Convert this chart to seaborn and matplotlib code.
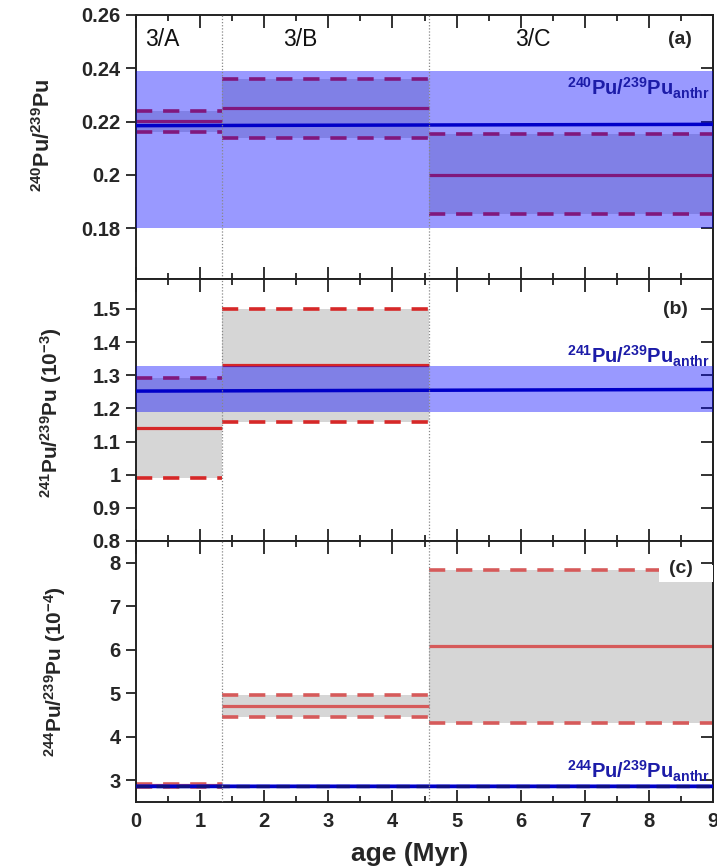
import numpy as np
import pandas as pd
import matplotlib
matplotlib.use("Agg")
import matplotlib.pyplot as plt
import seaborn as sns

# sample layers (age ranges, Myr)
layers = ["3/A", "3/B", "3/C"]
age_start = [0.0, 1.34, 4.57]
age_end = [1.34, 4.57, 9.0]
layer_label_x = [0.41, 2.56, 6.19]

# 240Pu/239Pu
pu240_mean = [0.2202, 0.2252, 0.2000]
pu240_lo = [0.2162, 0.2140, 0.1852]
pu240_hi = [0.2241, 0.2361, 0.2152]
anthr240_line = [0.2185, 0.2190]
anthr240_band = [0.180, 0.239]

# 241Pu/239Pu (1e-3)
pu241_mean = [1.14, 1.33, np.nan]
pu241_lo = [0.99, 1.16, np.nan]
pu241_hi = [1.29, 1.50, np.nan]
anthr241_line = [1.252, 1.257]
anthr241_band = [1.19, 1.327]

# 244Pu/239Pu (1e-4)
pu244_mean = [2.88, 4.71, 6.08]
pu244_lo = [2.84, 4.46, 4.31]
pu244_hi = [2.92, 4.97, 7.84]
anthr244_line = [2.87, 2.87]
anthr244_band = [2.84, 2.92]

age_range = [0, 9]

sns.set_theme(style="ticks")
plt.rcParams["font.family"] = ["Liberation Sans", "DejaVu Sans"]
plt.rcParams["mathtext.fontset"] = "custom"
plt.rcParams["mathtext.rm"] = "Liberation Sans"
plt.rcParams["mathtext.bf"] = "Liberation Sans:bold"
plt.rcParams["mathtext.it"] = "Liberation Sans:italic"

RED = "#d62828"
BLUE_BAND = "#0000ff"
BLUE_LINE = "#0000c8"
LABEL_BLUE = "#1c1ca8"
GREY = "#d6d6d6"

fig = plt.figure(figsize=(7.17, 8.68), dpi=100)
left, width = 136 / 717, 577 / 717
ax_a = fig.add_axes([left, 1 - 279 / 868, width, 264 / 868])
ax_b = fig.add_axes([left, 1 - 541 / 868, width, 262 / 868])
ax_c = fig.add_axes([left, 1 - 802 / 868, width, 261 / 868])


def draw_panel(ax, mean, lo, hi, line, band, red):
    for i in range(len(layers)):
        if np.isnan(mean[i]):
            continue
        x0, x1 = age_start[i], age_end[i]
        ax.fill_between([x0, x1], lo[i], hi[i], color=GREY, lw=0, zorder=1)
        ax.hlines(mean[i], x0, x1, color=red, lw=2.3, zorder=2)
        ax.hlines([lo[i], hi[i]], x0, x1, color=red, lw=2.6,
                  linestyles=(0, (4.5, 3)), zorder=2)
    ax.fill_between(age_range, band[0], band[1], color=BLUE_BAND, alpha=0.4,
                    lw=0, zorder=3)
    df = pd.DataFrame({"age": age_range, "ratio": line})
    sns.lineplot(data=df, x="age", y="ratio", ax=ax, color=BLUE_LINE, lw=2.5,
                 zorder=4)


draw_panel(ax_a, pu240_mean, pu240_lo, pu240_hi, anthr240_line, anthr240_band, RED)
draw_panel(ax_b, pu241_mean, pu241_lo, pu241_hi, anthr241_line, anthr241_band, RED)
draw_panel(ax_c, pu244_mean, pu244_lo, pu244_hi, anthr244_line, anthr244_band, "#d65a5a")
# dashed dark overlay on the anthropogenic 244 line
ax_c.plot(age_range, anthr244_line, color="#101080", lw=2.4,
          linestyle=(0, (4, 2)), zorder=5)

ax_a.set_ylim(0.161, 0.26)
ax_a.set_yticks([0.18, 0.2, 0.22, 0.24, 0.26])
ax_a.set_yticklabels(["0.18", "0.2", "0.22", "0.24", "0.26"])
ax_b.set_ylim(0.8, 1.59)
ax_b.set_yticks([0.8, 0.9, 1.0, 1.1, 1.2, 1.3, 1.4, 1.5])
ax_b.set_yticklabels(["0.8", "0.9", "1", "1.1", "1.2", "1.3", "1.4", "1.5"])
ax_c.set_ylim(2.5, 8.5)
ax_c.set_yticks([3, 4, 5, 6, 7, 8])

for ax in (ax_a, ax_b, ax_c):
    ax.set_xlim(0, 9)
    ax.set_xticks(range(10))
    ax.set_xticks(np.arange(0.5, 9, 1), minor=True)
    ax.tick_params(axis="x", which="both", direction="in", top=True,
                   bottom=True, width=1.3, color="#222222")
    ax.tick_params(axis="x", which="major", length=9, pad=7)
    ax.tick_params(axis="x", which="minor", length=4)
    ax.tick_params(axis="y", which="major", direction="out", left=True,
                   right=False, length=7, width=1.3, color="#222222", pad=4)
    ax.tick_params(labelsize=14.5)
    for t in ax.get_yticklabels() + ax.get_xticklabels():
        t.set_fontweight("bold")
    for s in ax.spines.values():
        s.set_visible(True)
        s.set_linewidth(1.4)
        s.set_color("#222222")
    ax.set_xlabel("")
    for xv in age_start[1:]:
        ax.axvline(xv, color="#888888", lw=0.9, linestyle=(0, (1, 1.5)), zorder=6)
    # inward ticks on right axis
    ry = ax.secondary_yaxis("right")
    ry.set_yticks(ax.get_yticks())
    ry.tick_params(direction="in", length=9, width=1.3, labelright=False,
                   color="#222222")

ax_a.tick_params(axis="x", labelbottom=False)
ax_b.tick_params(axis="x", labelbottom=False)

ax_a.set_ylabel(r"$\mathbf{^{240}Pu/^{239}Pu}$", fontsize=15.5)
ax_b.set_ylabel(r"$\mathbf{^{241}Pu/^{239}Pu\ (10^{-3})}$", fontsize=15)
ax_c.set_ylabel(r"$\mathbf{^{244}Pu/^{239}Pu\ (10^{-4})}$", fontsize=15)
ax_a.yaxis.set_label_coords(-0.14, 0.545)
ax_b.yaxis.set_label_coords(-0.125, 0.49)
ax_c.yaxis.set_label_coords(-0.118, 0.5)
ax_c.set_xlabel("age (Myr)", fontsize=19, fontweight="bold")
ax_c.xaxis.set_label_coords(0.475, -0.155)

# layer names
for name, xc in zip(layers, layer_label_x):
    ax_a.text(xc, 0.2508, name, fontsize=16.5, ha="center", va="center",
              color="#111111", zorder=7)

ax_a.text(8.49, 0.2508, "(a)", fontsize=14, fontweight="bold", ha="center",
          va="center", zorder=7)
ax_b.text(8.42, 1.497, "(b)", fontsize=14, fontweight="bold", ha="center",
          va="center", zorder=7)
# white label background in panel (c)
ax_c.fill_between([8.15, 9.0], 7.55, 7.95, color="white", lw=0, zorder=6)
ax_c.text(8.5, 7.86, "(c)", fontsize=14, fontweight="bold", ha="center",
          va="center", zorder=7)

ax_a.text(8.95, 0.2325, r"$\mathbf{^{240}Pu/^{239}Pu_{anthr}}$", fontsize=14.5,
          color=LABEL_BLUE, ha="right", va="center", zorder=7)
ax_b.text(8.95, 1.356, r"$\mathbf{^{241}Pu/^{239}Pu_{anthr}}$", fontsize=14.5,
          color=LABEL_BLUE, ha="right", va="center", zorder=7)
ax_c.text(8.95, 3.2, r"$\mathbf{^{244}Pu/^{239}Pu_{anthr}}$", fontsize=14.5,
          color=LABEL_BLUE, ha="right", va="center", zorder=7)

fig.savefig("out.png", dpi=100)
